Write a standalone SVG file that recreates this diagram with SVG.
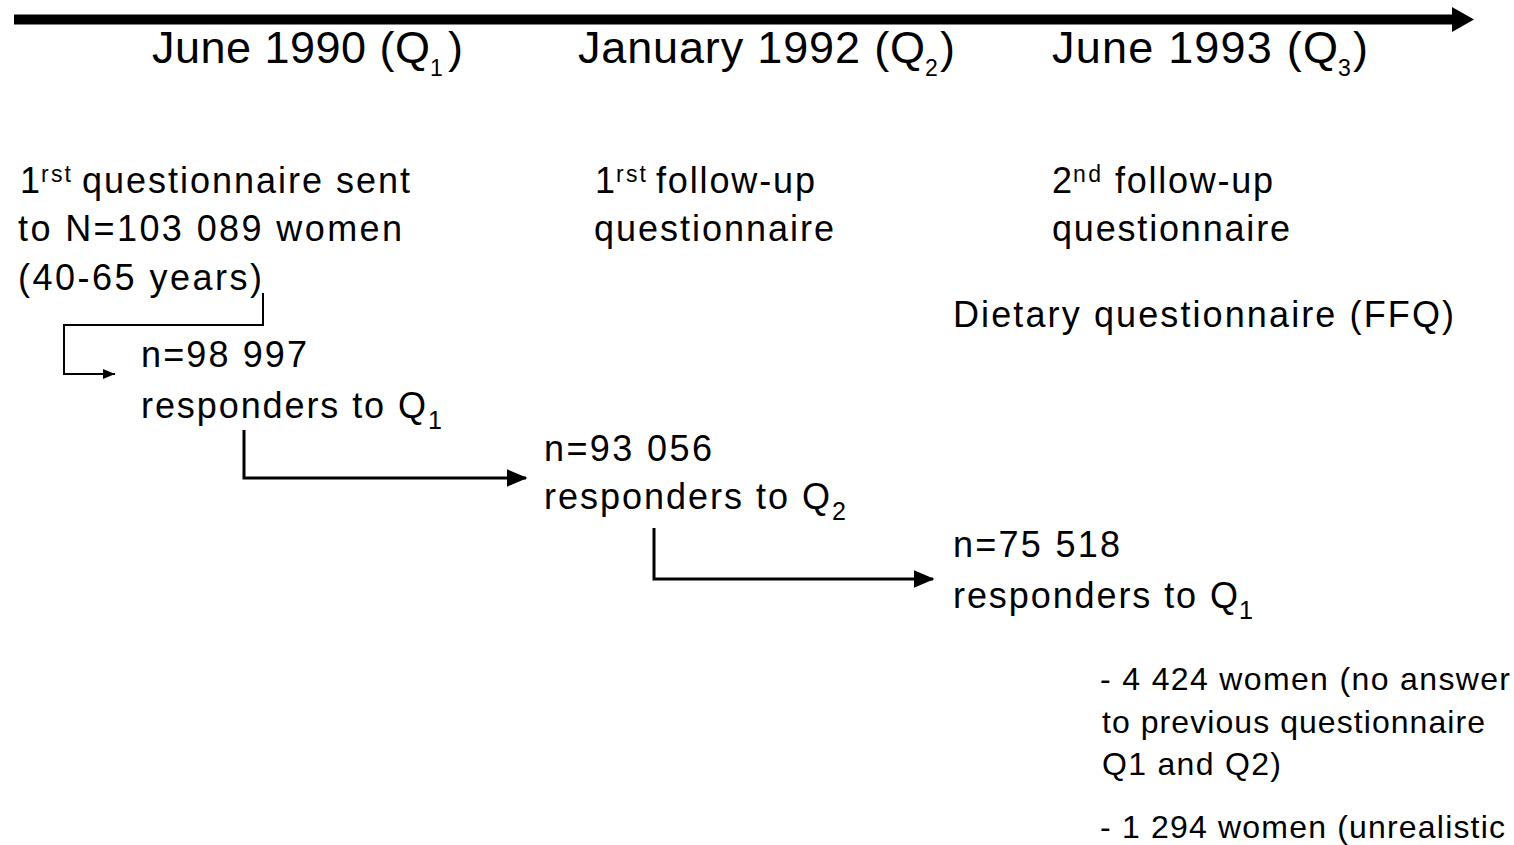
<svg xmlns="http://www.w3.org/2000/svg" width="1514" height="845" viewBox="0 0 1514 845">
<style>
text{font-family:"Liberation Sans",Arial,sans-serif;fill:#000}
.h{font-size:45px}
.b{font-size:36px}
.s{font-size:32px}
.sup{font-size:23px}
.sub{font-size:25px}
.hsub{font-size:23px}
.ln{fill:none;stroke:#000}
</style>
<defs>
<marker id="ah" markerWidth="7" markerHeight="6" refX="6.5" refY="3" orient="auto" markerUnits="strokeWidth"><path d="M0,0 L7,3 L0,6 Z" fill="#000"/></marker>
<marker id="as" markerWidth="6" markerHeight="5" refX="6" refY="2.5" orient="auto" markerUnits="strokeWidth"><path d="M0,0 L6,2.5 L0,5 Z" fill="#000"/></marker>
</defs>
<g id="timeline">
<line x1="14" y1="19.5" x2="1452" y2="19.5" stroke="#000" stroke-width="10"/>
<path d="M1452,7 L1474,19.5 L1452,32 Z" fill="#000"/>
</g>
<g id="h1">
<text class="h" x="152" y="63" textLength="278" lengthAdjust="spacing">June 1990 (Q</text>
<text class="hsub" x="430" y="76">1</text>
<text class="h" x="448" y="63">)</text>
</g>
<g id="h2">
<text class="h" x="578" y="63" textLength="347" lengthAdjust="spacing">January 1992 (Q</text>
<text class="hsub" x="925" y="76">2</text>
<text class="h" x="940" y="63">)</text>
</g>
<g id="h3">
<text class="h" x="1052" y="63" textLength="286" lengthAdjust="spacing">June 1993 (Q</text>
<text class="hsub" x="1338" y="76">3</text>
<text class="h" x="1353" y="63">)</text>
</g>
<g id="q1">
<text class="b" x="20" y="193">1</text>
<text class="sup" x="41" y="182" textLength="30" lengthAdjust="spacing">rst</text>
<text class="b" x="82" y="193" textLength="328" lengthAdjust="spacing">questionnaire sent</text>
<text class="b" x="18" y="241" textLength="384" lengthAdjust="spacing">to N=103 089 women</text>
<text class="b" x="18" y="290" textLength="244" lengthAdjust="spacing">(40-65 years)</text>
</g>
<g id="fu1">
<text class="b" x="595" y="193">1</text>
<text class="sup" x="616" y="182" textLength="30" lengthAdjust="spacing">rst</text>
<text class="b" x="656" y="193" textLength="159" lengthAdjust="spacing">follow-up</text>
<text class="b" x="594" y="241" textLength="240" lengthAdjust="spacing">questionnaire</text>
</g>
<g id="fu2">
<text class="b" x="1052" y="193">2</text>
<text class="sup" x="1073" y="182" textLength="28" lengthAdjust="spacing">nd</text>
<text class="b" x="1115" y="193" textLength="158" lengthAdjust="spacing">follow-up</text>
<text class="b" x="1052" y="241" textLength="238" lengthAdjust="spacing">questionnaire</text>
</g>
<g id="ffq">
<text class="b" x="953" y="327" textLength="501" lengthAdjust="spacing">Dietary questionnaire (FFQ)</text>
</g>
<g id="r1">
<text class="b" x="141" y="367" textLength="166" lengthAdjust="spacing">n=98 997</text>
<text class="b" x="141" y="418" textLength="285" lengthAdjust="spacing">responders to Q</text>
<text class="sub" x="428" y="429">1</text>
</g>
<g id="r2">
<text class="b" x="544" y="461" textLength="168" lengthAdjust="spacing">n=93 056</text>
<text class="b" x="544" y="509" textLength="286" lengthAdjust="spacing">responders to Q</text>
<text class="sub" x="832" y="520">2</text>
</g>
<g id="r3">
<text class="b" x="953" y="557" textLength="167" lengthAdjust="spacing">n=75 518</text>
<text class="b" x="953" y="608" textLength="285" lengthAdjust="spacing">responders to Q</text>
<text class="sub" x="1239" y="619">1</text>
</g>
<g id="excl">
<text class="s" x="1100" y="690" textLength="410" lengthAdjust="spacing">- 4 424 women (no answer</text>
<text class="s" x="1102" y="733" textLength="383" lengthAdjust="spacing">to previous questionnaire</text>
<text class="s" x="1102" y="775" textLength="179" lengthAdjust="spacing">Q1 and Q2)</text>
<text class="s" x="1100" y="838" textLength="405" lengthAdjust="spacing">- 1 294 women (unrealistic</text>
</g>
<g id="connectors">
<polyline class="ln" stroke-width="2" points="263,293 263,325 64,325 64,374 115,374" marker-end="url(#as)"/>
<polyline class="ln" stroke-width="3" points="244,430 244,478 526,478" marker-end="url(#ah)"/>
<polyline class="ln" stroke-width="3" points="654,528 654,579 933,579" marker-end="url(#ah)"/>
</g>
</svg>
